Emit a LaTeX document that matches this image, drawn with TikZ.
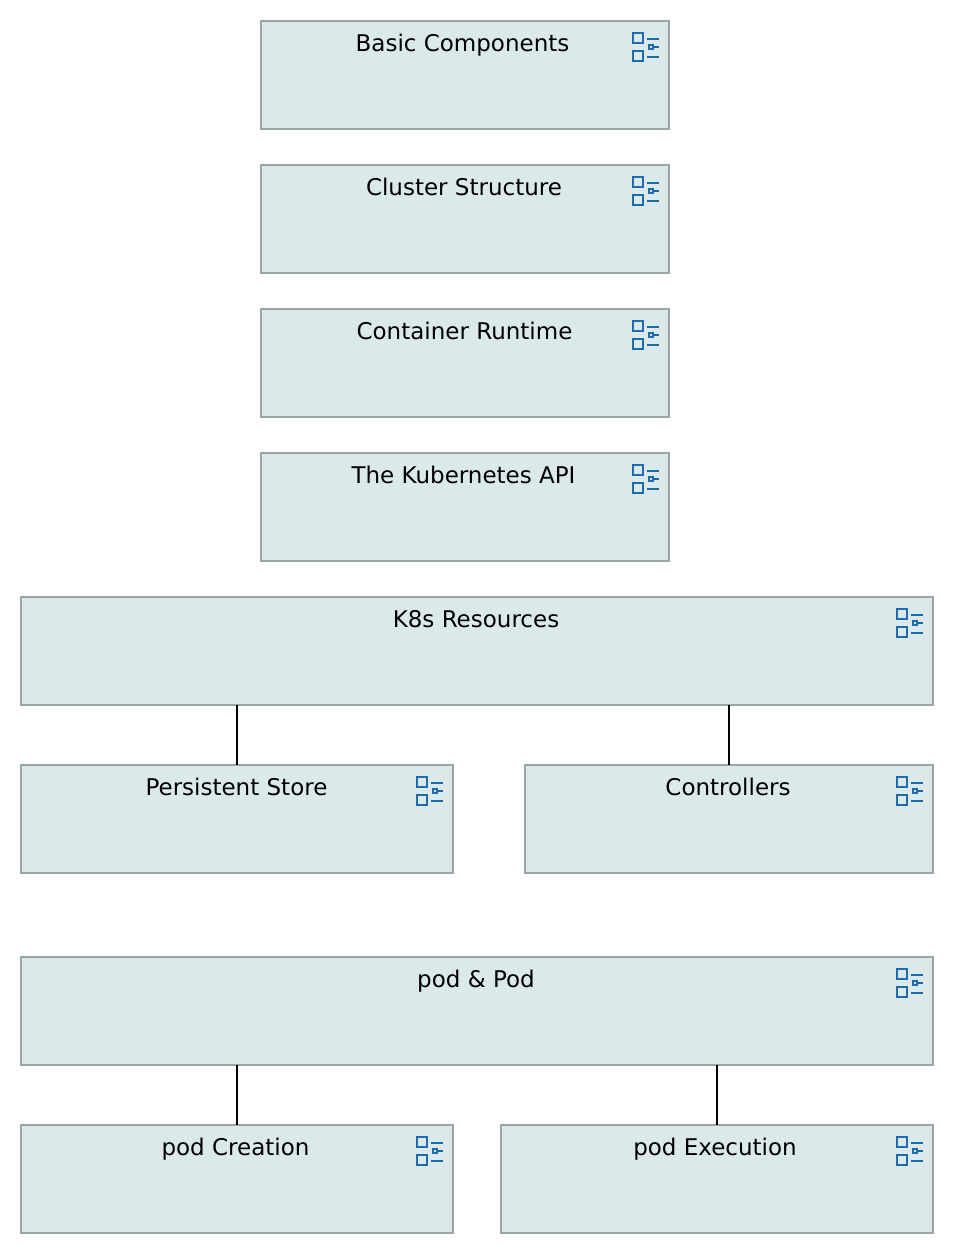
\documentclass[tikz,border=0pt]{standalone}
\usepackage{fontspec}
\setmainfont{DejaVu Sans}
\definecolor{boxfill}{HTML}{DCE9EA}
\definecolor{boxline}{HTML}{9AA6A6}
\definecolor{iconblue}{HTML}{1F6BAE}
\tikzset{
  x=1pt,y=-1pt,
  blockbox/.style={draw=boxline,fill=boxfill,line width=2pt,rectangle,inner sep=0pt,outer sep=0pt,minimum height=108pt},
  blocklabel/.style={font=\fontsize{23}{26}\selectfont,text=black,inner sep=0pt,anchor=base},
  link/.style={draw=black,line width=1.6pt},
  icon/.pic={
    \draw[iconblue,line width=2.6pt] (-36,12) rectangle (-26,22);
    \draw[iconblue,line width=2.6pt] (-36,30) rectangle (-26,40);
    \draw[iconblue,line width=2pt] (-22,18) -- (-10,18);
    \draw[iconblue,line width=2pt] (-22,36) -- (-10,36);
    \draw[iconblue,line width=2.2pt] (-20,24) rectangle (-16,28);
    \draw[iconblue,line width=2pt] (-16,26) -- (-10,26);
  }
}
\newcommand{\blk}[6]{% name, left, top, right, text x, text
  \node[blockbox,minimum width={#4-#2 pt},anchor=north west] (#1) at (#2,#3) {};
  \path (#1.north east) pic {icon};
  \node[blocklabel] (#1t) at (#5,#3+30.3) {#6};
}
\begin{document}
\begin{tikzpicture}
\useasboundingbox (0,0) rectangle (954,1254);
\blk{basic}{261}{21}{669}{462.5}{Basic Components}
\blk{cluster}{261}{165}{669}{464}{Cluster Structure}
\blk{runtime}{261}{309}{669}{464.5}{Container Runtime}
\blk{api}{261}{453}{669}{463.5}{The Kubernetes API}
\blk{res}{21}{597}{933}{476}{K8s Resources}
\blk{store}{21}{765}{453}{236.5}{Persistent Store}
\blk{ctrl}{525}{765}{933}{728}{Controllers}
\blk{pod}{21}{957}{933}{476}{pod \& Pod}
\blk{create}{21}{1125}{453}{235.5}{pod Creation}
\blk{exec}{501}{1125}{933}{715}{pod Execution}
\draw[link] (store.north) -- (store.north |- res.south);
\draw[link] (ctrl.north) -- (ctrl.north |- res.south);
\draw[link] (create.north) -- (create.north |- pod.south);
\draw[link] (exec.north) -- (exec.north |- pod.south);
\end{tikzpicture}
\end{document}
